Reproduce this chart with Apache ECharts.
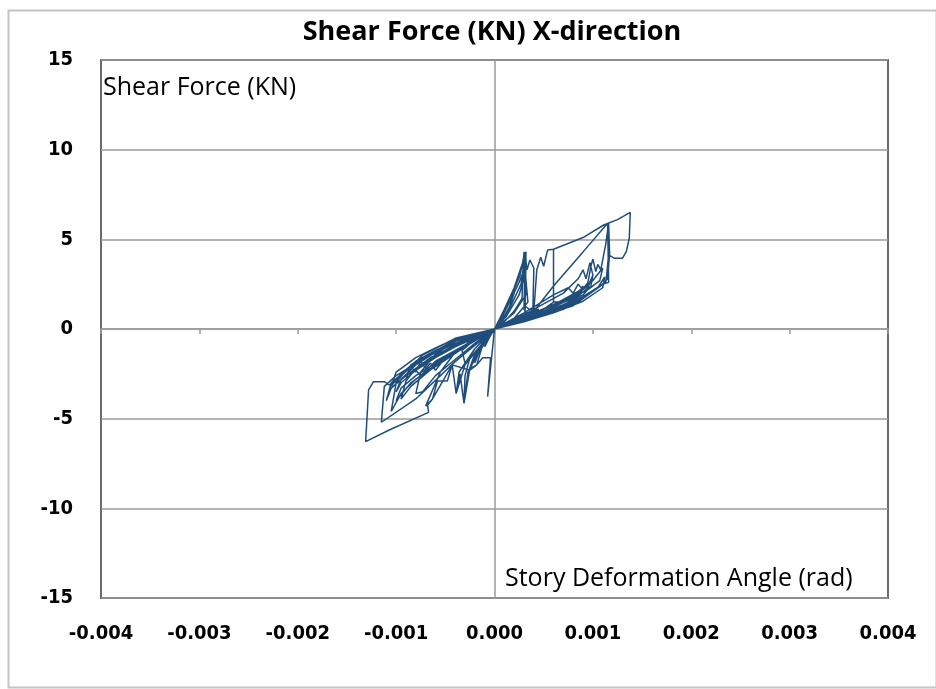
<!DOCTYPE html>
<html>
<head>
<meta charset="utf-8">
<script src="https://cdn.jsdelivr.net/npm/echarts@6/dist/echarts.min.js"></script>
<style>
html,body{margin:0;padding:0;background:#fff;}
#chart{width:936px;height:689px;}
</style>
</head>
<body>
<div id="chart"></div>
<script>
// Story deformation angle (rad) — hysteresis path, in loading order
const angle = [
0,0.00005,0.0001,0.00007,0,-0.00005,-0.0001,-0.00007,0,
0.00008,0.00015,0.0002,0.00014,0.00007,0,-0.00008,-0.00015,-0.0002,-0.00013,-0.00006,0,
0.0001,0.0002,0.00028,0.00029,0.0003,0.00031,0.0003,0.00033,0.00022,0.0001,0,
-0.0001,-0.0002,-0.00026,-0.00019,-0.0001,0,
0.0001,0.00025,0.0003,0.00033,0.0002,0,
-0.0001,-0.0002,-0.0003,-0.00033,-0.0002,0,
0.00012,0.00025,0.0003,0.00031,0.00032,0.00031,0.00036,0.0002,0,
-0.00012,-0.00025,-0.0003,-0.00031,-0.00027,-0.00015,0,
0.0001,0.0002,0.00028,0.0003,0.00034,0.0002,0,
0.00015,0.00027,0.0003,0.00031,0.00033,0.00036,0.0004,0.00039,0.00025,0,
-0.00015,-0.0003,-0.00039,-0.00036,-0.0002,0,
0.00012,0.00026,0.0003,0.00032,0.00031,0.00035,0.00045,0.00025,0,
-0.00007,-0.00004,-0.00012,-0.00018,-0.00025,-0.00043,-0.00048,-0.00058,-0.00063,-0.0007,-0.00055,-0.0004,-0.0002,0,
0.0002,0.0004,0.00043,0.00047,0.0005,0.00054,0.0006,0.0006,0.00068,0.00055,0.0003,0,
-0.0002,-0.0004,-0.0006,-0.00073,-0.0008,-0.00075,-0.0006,-0.0004,0,
-0.0003,-0.0006,-0.00075,-0.0008,-0.00072,-0.0008,-0.0009,-0.00085,-0.0007,-0.0004,0,
0.00015,0.0004,0.0006,0.0008,0.00095,0.001,0.00098,0.0009,0.0007,0.0004,0.0002,0,
-0.0002,-0.0004,-0.0006,-0.0008,-0.00095,-0.001,-0.00095,-0.0008,-0.0006,-0.0003,0,
0.0002,0.00045,0.00065,0.00085,0.001,0.0011,0.00107,0.00095,0.00075,0.0005,0.00025,0,
-0.0002,-0.0004,-0.00055,-0.0007,-0.00085,-0.00095,-0.0009,-0.0008,-0.00065,-0.0004,0,
0.0003,0.0006,0.00075,0.0008,0.00085,0.0009,0.0007,0.0004,0,
-0.0003,-0.0005,-0.0006,-0.00065,-0.0007,-0.00075,-0.0008,-0.00085,-0.0009,-0.00075,-0.0005,0,
0.0002,0.0005,0.0007,0.0009,0.00105,0.00112,0.0011,0.0009,0.0006,0.0003,0,
-0.0002,-0.0004,-0.0006,-0.0008,-0.00095,-0.00105,-0.001,-0.0008,-0.0006,-0.0004,0,
0.0003,0.0005,0.0007,0.00085,0.0009,0.00093,0.00097,0.001,0.00095,0.0008,0.0005,0,
0.0002,0.00047,0.0007,0.00085,0.0009,0.00087,0.00095,0.00098,0.001,0.00103,0.00105,0.00108,0.00113,0.00116,0.00117,0.00115,0.00108,0.0008,0.00045,0,
-0.0002,-0.0005,-0.0007,-0.0009,-0.00105,-0.0011,-0.00105,-0.0009,-0.0007,-0.0004,0,
-0.0003,-0.0006,-0.0008,-0.00095,-0.00105,-0.001,-0.0009,-0.00075,-0.0004,0,
0.00037,0.0006,0.0009,0.00115,0.00116,0.0011,0.0009,0.0006,0,
-0.0003,-0.0006,-0.00085,-0.001,-0.00095,-0.0008,-0.0006,-0.0003,0,
-0.0004,-0.0008,-0.00115,-0.00112,-0.001,-0.0007,-0.0004,0,
0.0002,0.0004,0.0006,0.0006,0.0009,0.00111,0.00125,0.00138,0.00137,0.00134,0.0013,0.00122,0.00116,0.00114,0.00113,0.00105,0.0009,0.0007,0.0004,0,
-0.0001,-0.00018,-0.00025,-0.00031,-0.00035,-0.00039,-0.00043,-0.00063,-0.00068,-0.00067,-0.00107,-0.00131,-0.00128,-0.00123,-0.00112,-0.00107,-0.001,-0.00073,-0.0004,0
];
// Shear force (kN), same order
const force = [
0,0.45,1.0,0.5,0,-0.45,-1.0,-0.5,0,
0.5,1.2,2.0,1.0,0.35,0,-0.5,-1.1,-1.9,-0.9,-0.3,0,
0.4,1.0,1.7,3.4,4.3,3.8,1.1,0.85,0.5,0.2,0,
-0.6,-1.4,-2.3,-1.6,-0.8,0,
0.9,2.6,3.3,2.0,0.9,0,
-0.5,-1.1,-1.9,-1.2,-0.6,0,
0.7,1.9,2.8,4.2,3.9,0.9,0.9,0.45,0,
-0.8,-1.6,-2.6,-4.15,-2.4,-1.0,0,
1.1,2.3,3.6,3.9,1.5,0.6,0,
1.1,2.5,3.7,4.25,3.3,3.85,3.4,1.0,0.6,0,
-1.0,-2.0,-3.6,-2.4,-1.1,0,
1.2,3.0,4.1,4.3,1.3,1.1,1.1,0.5,0,
-3.77,-1.6,-1.6,-2.0,-2.3,-2.0,-2.9,-2.9,-3.9,-4.3,-2.4,-1.3,-0.5,0,
0.55,1.0,3.3,4.0,3.5,4.4,4.45,1.5,1.5,1.1,0.5,0,
-0.8,-1.7,-2.6,-3.5,-3.6,-2.4,-1.4,-0.7,0,
-0.9,-1.8,-2.6,-2.3,-2.0,-2.2,-2.8,-2.0,-1.5,-0.7,0,
0.35,0.75,1.1,1.6,2.3,3.0,2.4,1.9,1.35,0.8,0.45,0,
-0.5,-1.0,-1.6,-2.3,-3.0,-3.5,-2.8,-2.0,-1.3,-0.6,0,
0.5,1.0,1.5,2.1,2.7,3.4,2.7,2.2,1.6,1.0,0.5,0,
-0.6,-1.2,-1.8,-2.5,-3.2,-3.9,-2.9,-2.2,-1.6,-0.9,0,
0.9,1.9,2.3,2.0,2.5,2.2,1.6,0.9,0,
-1.0,-1.6,-2.3,-1.9,-2.2,-1.8,-2.4,-2.1,-2.6,-2.0,-1.2,0,
0.3,0.75,1.1,1.7,2.3,2.9,2.3,1.55,0.9,0.4,0,
-0.35,-0.7,-1.2,-1.8,-2.5,-3.2,-2.4,-1.6,-1.05,-0.55,0,
0.8,1.4,2.0,2.8,3.3,2.8,3.7,3.0,2.4,1.8,1.1,0,
0.4,0.8,1.3,1.9,2.4,2.0,2.6,3.5,3.9,3.2,3.6,3.3,4.7,5.9,4.2,2.8,2.4,1.3,0.7,0,
-0.45,-1.2,-1.9,-2.6,-3.3,-4.0,-3.0,-2.3,-1.6,-0.8,0,
-1.0,-2.1,-2.8,-3.6,-4.6,-3.0,-2.3,-1.7,-0.6,0,
0.78,2.4,4.3,5.9,2.6,2.5,1.8,1.0,0,
-0.9,-2.0,-3.0,-4.0,-3.3,-2.6,-1.9,-0.9,0,
-1.82,-3.9,-5.2,-3.2,-2.6,-1.6,-0.6,0,
0.3,0.7,1.5,4.45,5.1,5.8,6.1,6.5,5.06,4.31,3.94,3.94,4.13,3.0,2.6,2.3,1.7,1.2,0.6,0,
-0.5,-2.0,-2.2,-4.15,-2.5,-3.6,-2.0,-3.9,-4.24,-4.65,-5.63,-6.28,-3.4,-2.94,-2.94,-3.12,-2.9,-1.45,-0.52,0
];
const xTicks = {min: -0.004, max: 0.004, step: 0.001};
const yTicks = {min: -15, max: 15, step: 5};
const chartTitle = 'Shear Force (KN) X-direction';
const yName = 'Shear Force (KN)';
const xName = 'Story Deformation Angle (rad)';

const pts = angle.map((a, i) => [a, force[i]]);
const tickFont = {fontFamily: "'Liberation Sans Narrow','DejaVu Sans Condensed',sans-serif", fontWeight: 'bold', fontSize: 20, color: '#000'};

const chart = echarts.init(document.getElementById('chart'), null, {renderer: 'canvas'});
chart.setOption({
  animation: false,
  backgroundColor: '#fff',
  grid: {left: 101, right: 48, top: 60, bottom: 91, show: true, borderColor: '#6a6a6a', borderWidth: 2, backgroundColor: 'transparent'},
  title: {text: chartTitle, left: 487, top: 14, textAlign: 'center',
    textStyle: {fontFamily: "'Open Sans',sans-serif", fontWeight: 'bold', fontSize: 27, color: '#000'}},
  xAxis: [
    {type: 'value', position: 'bottom', min: xTicks.min, max: xTicks.max, interval: xTicks.step,
     axisLine: {show: false, onZero: false}, axisTick: {show: false}, splitLine: {show: false},
     axisLabel: Object.assign({margin: 26, formatter: v => v.toFixed(3)}, tickFont)},
    {type: 'value', position: 'top', min: xTicks.min, max: xTicks.max, interval: xTicks.step,
     axisLine: {show: true, onZero: true, lineStyle: {color: '#9a9a9a', width: 1.5}},
     axisTick: {show: true, inside: true, length: 5, lineStyle: {color: '#9a9a9a', width: 1.5}},
     axisLabel: {show: false}, splitLine: {show: false}}
  ],
  yAxis: [
    {type: 'value', position: 'left', min: yTicks.min, max: yTicks.max, interval: yTicks.step,
     axisLine: {show: false, onZero: false}, axisTick: {show: false},
     splitLine: {show: true, lineStyle: {color: '#9a9a9a', width: 1.5}},
     axisLabel: Object.assign({margin: 28, formatter: v => String(v)}, tickFont)},
    {type: 'value', position: 'right', min: yTicks.min, max: yTicks.max, interval: yTicks.step,
     axisLine: {show: true, onZero: true, lineStyle: {color: '#9a9a9a', width: 1.5}},
     axisTick: {show: false}, axisLabel: {show: false}, splitLine: {show: false}}
  ],
  graphic: [
    {type: 'rect', left: 6, top: 8, shape: {width: 928, height: 677}, style: {fill: 'none', stroke: '#c4c4c4', lineWidth: 2}, z: -1},
    {type: 'text', left: 103, top: 75, style: {text: yName, font: "25px 'Open Sans', sans-serif", fill: '#000'}},
    {type: 'text', left: 505, top: 566, style: {text: xName, font: "25px 'Open Sans', sans-serif", fill: '#000'}}
  ],
  series: [{
    type: 'line', xAxisIndex: 0, yAxisIndex: 0, data: pts, showSymbol: false, symbol: 'none',
    lineStyle: {color: '#1f4e7c', width: 1.5}, z: 5
  }]
});
</script>
</body>
</html>
